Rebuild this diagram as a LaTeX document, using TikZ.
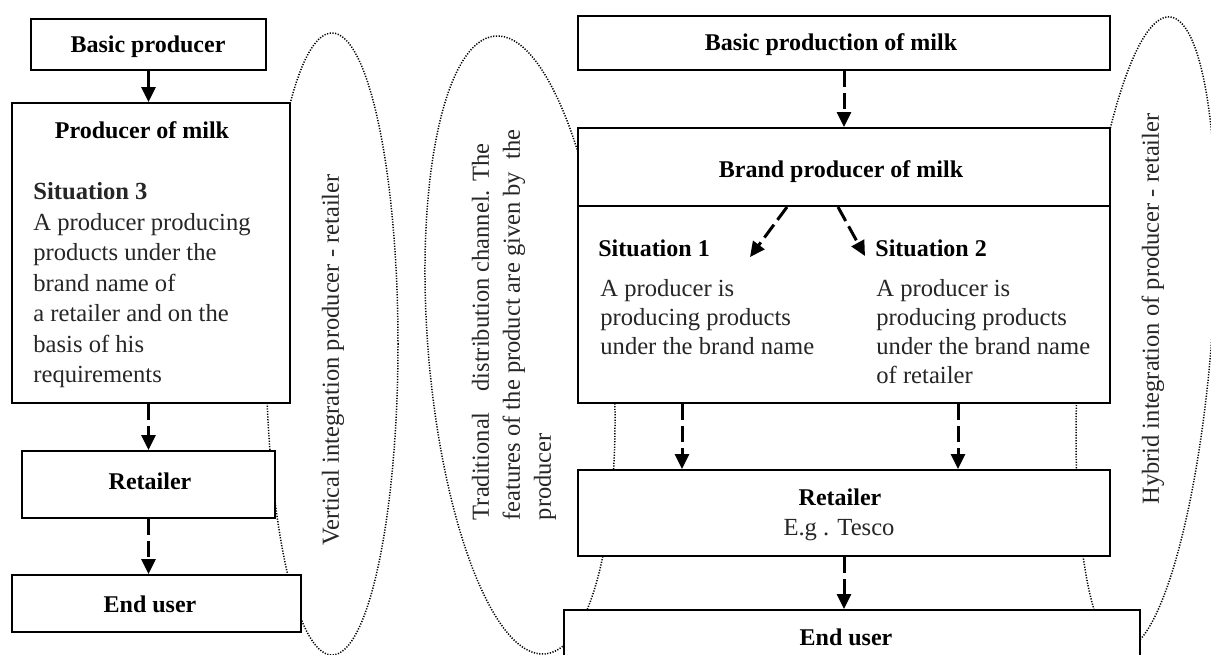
\documentclass[tikz,border=0pt]{standalone}
\usepackage{fontspec}
\setmainfont{Liberation Serif}
\usetikzlibrary{arrows.meta}
\newlength\featw
\begin{document}
\settowidth{\featw}{\fontsize{12.25}{15.5}\selectfont features of the product are given by the}%
\begin{tikzpicture}[x=0.5pt,y=-0.5pt,
  boxnode/.style={draw, line width=1pt, fill=white, inner sep=0pt, rectangle},
  ttl/.style={font=\fontsize{12}{15}\selectfont\bfseries, inner sep=0pt, anchor=base},
  body/.style={font=\fontsize{12.3}{15.25}\selectfont, inner sep=0pt, align=left, text=black!85},
  bodyb/.style={font=\fontsize{12.3}{14.5}\selectfont, inner sep=0pt, align=left, text=black!85},
  flow/.style={line width=1.5pt, dash pattern=on 8pt off 3pt, -{Triangle[length=7.5pt,width=7pt]}},
  dots/.style={line width=0.75pt, dash pattern=on 0.6pt off 0.75pt},
  vtext/.style={font=\fontsize{12.25}{15.5}\selectfont, rotate=90, inner sep=0pt, align=left, text=black!85}]
\clip (0,0) rectangle (1211,654);
\fill[white] (0,0) rectangle (1211,654);
% ellipses
\draw[dots] (332,344) ellipse [x radius=33pt, y radius=155.5pt];
\draw[dots, rotate around={4.6:(520,345)}] (520,345) ellipse [x radius=46pt, y radius=155pt];
\draw[dots, rotate around={-4.3:(1146,333)}] (1146,333) ellipse [x radius=33pt, y radius=158.5pt];
% boxes
\node[boxnode, minimum width=117.5pt, minimum height=25.5pt] (bp) at (148.5,44.5) {};
\node[boxnode, minimum width=139pt, minimum height=150pt] (pm) at (151,253) {};
\node[boxnode, minimum width=126.5pt, minimum height=33.5pt] (rt) at (148.5,484.5) {};
\node[boxnode, minimum width=144.5pt, minimum height=28.5pt] (eu) at (156.5,603.5) {};
\node[boxnode, minimum width=266pt, minimum height=27pt] (bpm) at (844,43) {};
\node[boxnode, minimum width=266pt, minimum height=137.5pt] (brand) at (844,265.5) {};
\coordinate (div) at (0,206);
\draw[line width=1pt] (brand.west |- div) -- (brand.east |- div);
\node[boxnode, minimum width=266pt, minimum height=43pt] (rt2) at (844,513) {};
\node[boxnode, minimum width=288pt, minimum height=35pt] (eu2) at (852,645) {};
% arrows
\draw[flow] (bp.south) -- (bp.south |- pm.north);
\draw[flow] (rt.north |- pm.south) -- (rt.north);
\draw[flow] (rt.south) -- (rt.south |- eu.north);
\draw[flow] (bpm.south) -- (brand.north);
\coordinate (d1s) at (787,207);
\coordinate (d1e) at (750,257);
\coordinate (d2s) at (838,207);
\coordinate (d2e) at (865,256);
\draw[flow] (d1s) -- (d1e);
\draw[flow] (d2s) -- (d2e);
\coordinate (a1) at (682,0);
\coordinate (a2) at (958,0);
\draw[flow] (a1 |- brand.south) -- (a1 |- rt2.north);
\draw[flow] (a2 |- brand.south) -- (a2 |- rt2.north);
\draw[flow] (rt2.south) -- (rt2.south |- eu2.north);
% texts
\node[ttl] (tbp) at (148,52) {Basic producer};
\node[ttl] (tpm) at (142,138) {Producer of milk};
\node[body, anchor=base west] (s3) at (33,382.5) {\textbf{Situation 3}\\A producer producing\\products under the\\brand name of\\a retailer and on the\\basis of his\\requirements};
\node[ttl] (trt) at (150,489) {Retailer};
\node[ttl] (teu) at (150,612) {End user};
\node[ttl] (tbpm) at (831,50) {Basic production of milk};
\node[ttl] (tbrand) at (841,177) {Brand producer of milk};
\node[ttl, anchor=base west] (ts1) at (598,256) {Situation 1};
\node[bodyb, anchor=base west] (b1) at (600,354) {A producer is\\producing products\\under the brand name};
\node[ttl, anchor=base west] (ts2) at (875,256) {Situation 2};
\node[bodyb, anchor=base west] (b2) at (876,383) {A producer is\\producing products\\under the brand name\\of retailer};
\node[ttl] (trt2) at (840,505) {Retailer};
\node[body, anchor=base] (teg) at (839,535) {E.g . Tesco};
\node[ttl] (teu2) at (846,645) {End user};
% vertical texts
\node[vtext] (v1) at (333,360) {Vertical integration producer - retailer};
\node[vtext] (v2) at (514,325) {\makebox[\featw][l]{Traditional\hspace{0.6em} distribution channel. The}\\features of the product are given by \ the\\\makebox[\featw][l]{producer}};
\node[vtext] (v3) at (1153,309) {Hybrid integration of producer - retailer};
\end{tikzpicture}
\end{document}
